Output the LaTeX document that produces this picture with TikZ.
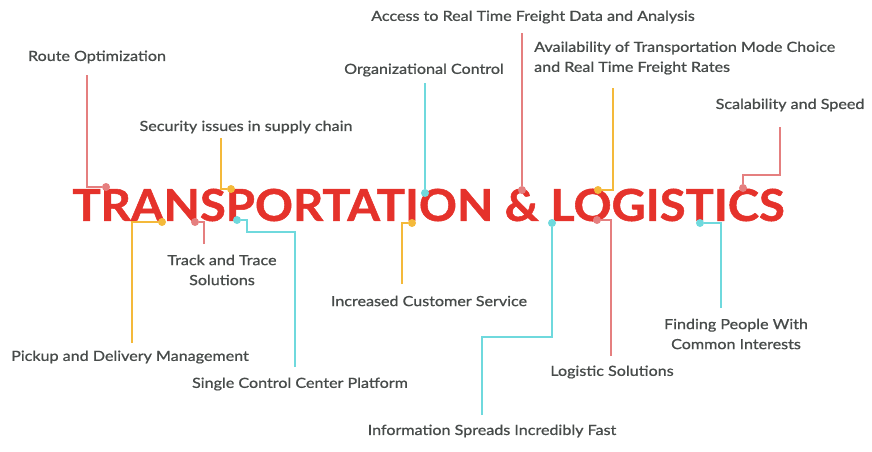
\documentclass[tikz,border=0pt]{standalone}
\usepackage{fontspec}
\setmainfont{Lato}
\newfontfamily\lblfont{Lato}[FakeBold=0.9,FakeStretch=1.15]
\newfontfamily\ttlfont{Lato Bold}[FakeBold=1.2,FakeStretch=1.07]
\usetikzlibrary{positioning}
\definecolor{tlred}{HTML}{E5322B}
\definecolor{tlpink}{HTML}{E57F7F}
\definecolor{tlgold}{HTML}{F4B93A}
\definecolor{tlcyan}{HTML}{6FD9DD}
\definecolor{tltext}{HTML}{474B4A}

\begin{document}
\begin{tikzpicture}[
    x=1pt,y=-1pt,
    lbl/.style={text=tltext,font=\lblfont\fontsize{14}{20}\selectfont,inner sep=0pt,align=center},
    dot/.style={circle,inner sep=0pt,minimum size=8pt},
    ln/.style={line width=2pt}
  ]
    \useasboundingbox (0,0) rectangle (872,451);
    % title
    \node[inner sep=0pt,text=tlred,font=\ttlfont\fontsize{44}{44}\selectfont] (title) at (428.5,205) {TRANSPORTATION \& LOGISTICS};

    % labels above
    \node[lbl] (route) at (97,57) {Route Optimization};
    \node[lbl] (secur) at (246,127) {Security issues in supply chain};
    \node[lbl] (orgc) at (424,70) {Organizational Control};
    \node[lbl] (access) at (533,17) {Access to Real Time Freight Data and Analysis};
    \node[lbl,align=left,anchor=west] (avail) at (534,58) {Availability of Transportation Mode Choice\\and Real Time Freight Rates};
    \node[lbl] (scal) at (790,105) {Scalability and Speed};
    % labels below
    \node[lbl] (pickup) at (130,357) {Pickup and Delivery Management};
    \node[lbl] (track) at (222,270) {Track and Trace\\Solutions};
    \node[lbl] (single) at (300,384) {Single Control Center Platform};
    \node[lbl] (incr) at (429,301) {Increased Customer Service};
    \node[lbl] (info) at (492,431) {Information Spreads Incredibly Fast};
    \node[lbl] (logsol) at (612,372) {Logistic Solutions};
    \node[lbl] (finding) at (736,334) {Finding People With\\Common Interests};

    % dots on the title
    \node[dot,fill=tlpink] (d1) at (106,187) {};
    \node[dot,fill=tlgold] (d2) at (231,189) {};
    \node[dot,fill=tlcyan] (d3) at (425,193) {};
    \node[dot,fill=tlpink] (d4) at (522,190) {};
    \node[dot,fill=tlgold] (d5) at (598,190) {};
    \node[dot,fill=tlpink] (d6) at (743,188) {};
    \node[dot,fill=tlgold] (d7) at (162,222) {};
    \node[dot,fill=tlpink] (d8) at (195,222) {};
    \node[dot,fill=tlcyan] (d9) at (237,220) {};
    \node[dot,fill=tlgold] (d10) at (412,223) {};
    \node[dot,fill=tlcyan] (d11) at (552,223) {};
    \node[dot,fill=tlpink] (d12) at (597,220) {};
    \node[dot,fill=tlcyan] (d13) at (700,223) {};

    % line ends under / over the labels
    \coordinate (e1) at (87,75);
    \coordinate (e2) at (221,138);
    \coordinate (e3) at (425,83);
    \coordinate (e4) at (522,33);
    \coordinate (e5) at (613,88);
    \coordinate (e6) at (780,127);
    \coordinate (e7) at (132,343);
    \coordinate (e8) at (204,244);
    \coordinate (e9) at (295,367);
    \coordinate (e10) at (402,284);
    \coordinate (e11) at (482,415);
    \coordinate (e12) at (611,356);
    \coordinate (e13) at (721,308);

    \draw[ln,tlpink] (e1) |- (d1);
    \draw[ln,tlgold] (e2) |- (d2);
    \draw[ln,tlcyan] (e3) -- (d3);
    \draw[ln,tlpink] (e4) -- (d4);
    \draw[ln,tlgold] (e5) |- (d5);
    \draw[ln,tlpink] (e6) -- (780,175) -| (d6);
    \draw[ln,tlgold] (e7) |- (d7);
    \draw[ln,tlpink] (e8) |- (d8);
    \draw[ln,tlcyan] (e9) |- (247,232) |- (d9);
    \draw[ln,tlgold] (e10) |- (d10);
    \draw[ln,tlcyan] (e11) |- (552,337) -- (d11);
    \draw[ln,tlpink] (e12) |- (d12);
    \draw[ln,tlcyan] (e13) |- (d13);
  \end{tikzpicture}
\end{document}
